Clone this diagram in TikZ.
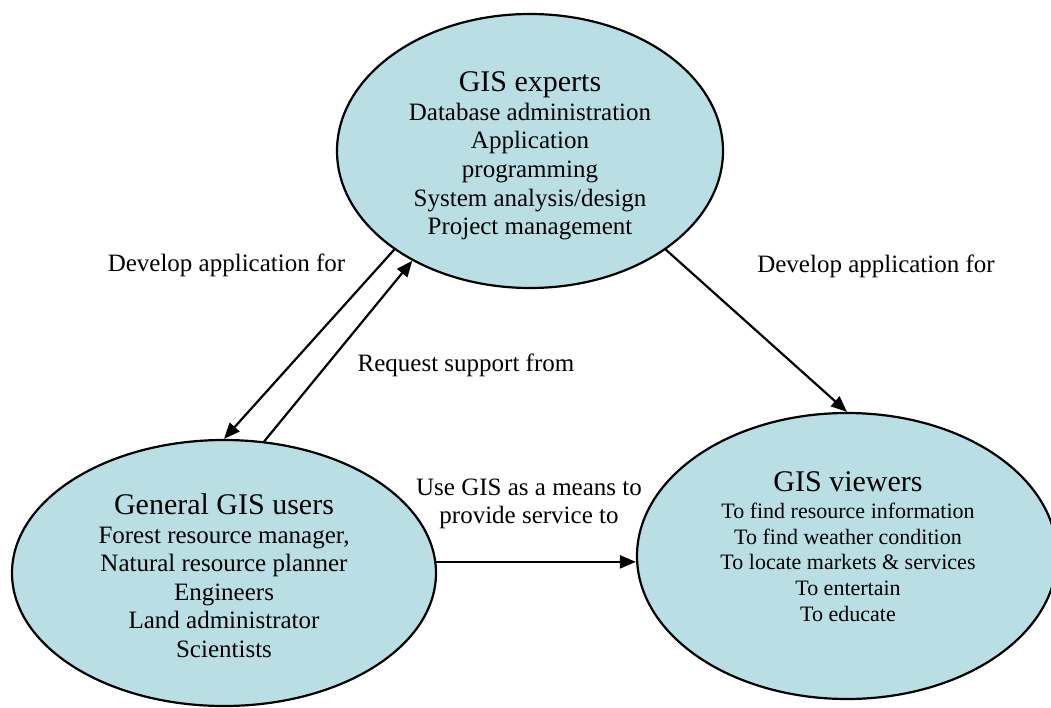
\documentclass[tikz,border=0pt]{standalone}
\usepackage{fontspec}
\setmainfont{Liberation Serif}
\usetikzlibrary{shapes.geometric,arrows.meta}
\definecolor{bubblefill}{RGB}{185,223,228}
\tikzset{
  bubble/.style={ellipse, draw=black, line width=2.2pt, fill=bubblefill, inner sep=0pt},
  link/.style={line width=2.2pt, -{Triangle[length=16pt,width=13pt]}},
  bodytext/.style={align=center, inner sep=0pt, font=\fontsize{25}{28.6}\selectfont},
  smalltext/.style={align=center, inner sep=0pt, font=\fontsize{22}{25.6}\selectfont},
  caption/.style={align=center, inner sep=0pt, font=\fontsize{25}{28.3}\selectfont},
}
\newcommand{\bubbletitle}[1]{{\fontsize{30}{30}\selectfont #1}}
\begin{document}
\begin{tikzpicture}[x=1pt,y=-1pt]
\useasboundingbox (0,0) rectangle (1051,708);

% the three groups
\node[bubble, minimum width=386pt, minimum height=274pt] (experts) at (530,151) {};
\node[bubble, minimum width=424pt, minimum height=266pt] (users) at (224,573) {};
\node[bubble, minimum width=420pt, minimum height=286pt] (viewers) at (847,556) {};

\node[bodytext] (expertsText) at (530,156)
  {\bubbletitle{GIS experts}\\Database administration\\Application\\programming\\System analysis/design\\Project management};
\node[bodytext] (usersText) at (224,575.5)
  {\bubbletitle{General GIS users}\\[0.5pt]Forest resource manager,\\Natural resource planner\\Engineers\\Land administrator\\Scientists};
\node[smalltext] (viewersText) at (848,546.5)
  {\bubbletitle{GIS viewers}\\[1.5pt]To find resource information\\To find weather condition\\To locate markets \& services\\To entertain\\To educate};

% relations between the groups
\draw[link] (experts.216) -- (users.north);
\draw[link] (users.73.8) -- (experts.223.5);
\draw[link] (experts.324.3) -- (viewers.north);
\draw[link] (users.3.8) -- (users.3.8 -| viewers.west);

\node[caption, anchor=base] (devLeft) at (226.5,271.7) {Develop application for};
\node[caption, anchor=base] (devRight) at (876,272.3) {Develop application for};
\node[caption, anchor=base] (request) at (466,371.7) {Request support from};
\node[caption] (service) at (529,504) {Use GIS as a means to\\provide service to};
\end{tikzpicture}
\end{document}
